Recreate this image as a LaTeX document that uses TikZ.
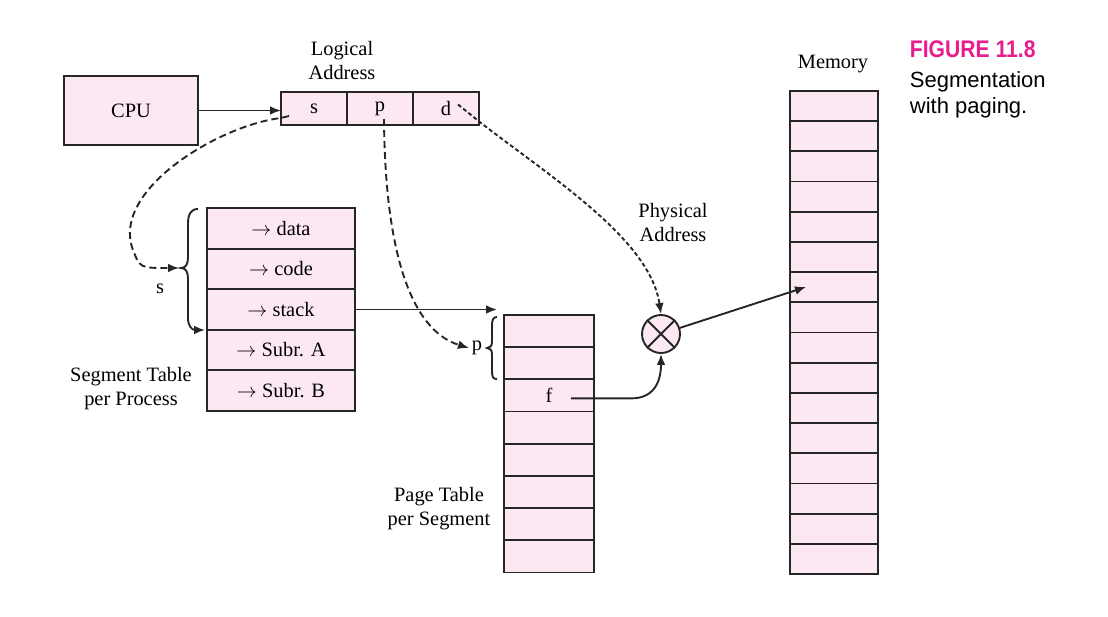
\documentclass[tikz,border=0pt]{standalone}
\usepackage{fontspec}
\setmainfont{Liberation Serif}
\newfontfamily\capsans{Liberation Sans}
\newfontfamily\capnarrow[FakeStretch=0.88]{Liberation Sans}
\usetikzlibrary{arrows.meta,positioning}

\definecolor{cellpink}{RGB}{252,232,242}
\definecolor{figmagenta}{RGB}{232,28,140}

\tikzset{
  cell/.style={draw, fill=cellpink, outer sep=0pt, inner sep=1pt},
  segrow/.style={cell, minimum width=74pt, minimum height=20.25pt},
  pagerow/.style={cell, minimum width=45pt, minimum height=16.1pt},
  memrow/.style={cell, minimum width=44pt, minimum height=15.1pt},
  addrcell/.style={cell, minimum width=33pt, minimum height=16.5pt},
  dashlink/.style={dash pattern=on 3.5pt off 2pt},
  dotlink/.style={dash pattern=on 2pt off 1.3pt},
  caption/.style={align=center, font=\fontsize{10.2}{12}\selectfont}
}

\begin{document}
\begin{tikzpicture}[x=0.5pt, y=-0.5pt, line width=0.95pt, draw=black!85,
    >={Latex[length=5.5pt,width=4.4pt]}, font=\fontsize{10.2}{12}\selectfont]
  \useasboundingbox (0,0) rectangle (1108,616);

  % cpu and logical address
  \node[cell, minimum width=67pt, minimum height=34.5pt] (cpu) at (131,110.5) {CPU};
  \node[addrcell] (las) at (314,108.5) {s};
  \node[addrcell, right=0pt of las] (lap) {p};
  \node[addrcell, right=0pt of lap] (lad) {d};
  \node[caption] (lalabel) at (342,61) {Logical\\Address};
  \draw[->] (cpu.east) -- (cpu.east -| las.west);

  % segment table
  \node[segrow] (seg1) at (281,228.5) {$\rightarrow$ data};
  \node[segrow, below=0pt of seg1] (seg2) {$\rightarrow$ code};
  \node[segrow, below=0pt of seg2] (seg3) {$\rightarrow$ stack};
  \node[segrow, below=0pt of seg3] (seg4) {$\rightarrow$ Subr. A};
  \node[segrow, below=0pt of seg4] (seg5) {$\rightarrow$ Subr. B};
  \node[caption] (stlabel) at (131,389) {Segment Table\\per Process};
  \coordinate (stip) at (179,268);
  \draw[->] (198,209) .. controls (191,209) and (188,214) .. (188,224) -- (188,257)
    .. controls (188,264) and (186,268) .. (181,268) .. controls (186,268) and (188,272) .. (188,279)
    -- (188,318) .. controls (188,326) and (192,330) .. (205,330);
  \node (slabel) at (160,289) {s};
  \draw[dashlink, ->] ([xshift=4pt, yshift=4.5pt]las.south west) -- ++(-8,2)
    .. controls (220,125) and (110,190) .. (133,250) .. controls (140,268) .. (stip);

  % page table
  \node[pagerow] (pt1) at (549,331) {};
  \node[pagerow, below=0pt of pt1] (pt2) {};
  \node[pagerow, below=0pt of pt2] (pt3) {f};
  \foreach \i [count=\j from 4] in {3,...,7}
    \node[pagerow, below=0pt of pt\i] (pt\j) {};
  \node[caption] (ptlabel) at (439,509) {Page Table\\per Segment};
  \coordinate (ptin) at (497,313);
  \draw[->] (seg3.east) -- (seg3.east -| ptin);
  \draw (497,317) .. controls (493,317) and (492,320) .. (492,326) -- (492,342)
    .. controls (492,346) and (490,348) .. (487,348) .. controls (490,348) and (492,350) .. (492,354)
    -- (492,371) .. controls (492,377) and (493,379) .. (497,379);
  \node[inner sep=1pt] (plabel) at (477,348) {p};
  \draw[dashlink, ->] ([xshift=2pt, yshift=3pt]lap.south)
    .. controls (385,250) and (410,330) .. (plabel.west);

  % physical address
  \node[circle, draw, fill=cellpink, minimum size=19pt, inner sep=0pt] (mult) at (661,334) {};
  \draw (mult.north west) -- (mult.south east) (mult.north east) -- (mult.south west);
  \node[caption] (palabel) at (673,223) {Physical\\Address};
  \draw[dotlink, ->] ([xshift=6pt, yshift=2pt]lad.center) -- (481,123)
    .. controls (555,180) and (650,240) .. (mult.north);
  \draw[->] ([xshift=11pt, yshift=-1.5pt]pt3.center) -- ++(60,0)
    .. controls +(25,0) and +(0,25) .. (mult.south);

  % memory
  \node[memrow] (mem1) at (834,106) {};
  \foreach \i [count=\j from 2] in {1,...,15}
    \node[memrow, below=0pt of mem\i] (mem\j) {};
  \node (memlabel) at (833,64) {Memory};
  \coordinate (memin) at (806,287);
  \draw[->] (mult) -- (memin);

  % figure caption
  \node[anchor=north west, inner sep=0pt, text=figmagenta, font=\capnarrow\bfseries\fontsize{12}{14}\selectfont]
    (figno) at (909,40) {FIGURE 11.8};
  \node[anchor=north west, inner sep=0pt, align=left, font=\capsans\fontsize{11}{13}\selectfont]
    (figtitle) at (909,71) {Segmentation\\with paging.};
\end{tikzpicture}
\end{document}
